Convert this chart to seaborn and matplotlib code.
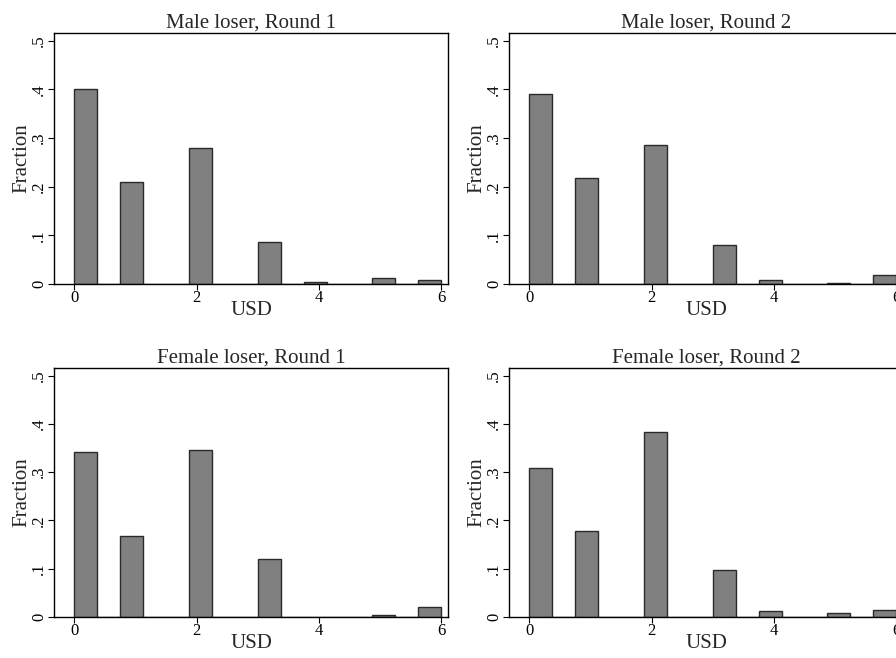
import numpy as np
import pandas as pd
import matplotlib
matplotlib.use("Agg")
import matplotlib.pyplot as plt
import seaborn as sns

# Data (fraction of subjects per USD amount)
usd = [0, 1, 2, 3, 4, 5, 6]
male_r1 = [0.400, 0.210, 0.280, 0.086, 0.004, 0.012, 0.008]
male_r2 = [0.390, 0.218, 0.286, 0.081, 0.008, 0.002, 0.019]
female_r1 = [0.342, 0.167, 0.347, 0.121, 0.000, 0.004, 0.020]
female_r2 = [0.309, 0.179, 0.384, 0.098, 0.012, 0.008, 0.014]

titles = ["Male loser, Round 1", "Male loser, Round 2",
          "Female loser, Round 1", "Female loser, Round 2"]
series = [male_r1, male_r2, female_r1, female_r2]
y_ticks = [0, 0.1, 0.2, 0.3, 0.4, 0.5]
y_tick_labels = ["0", ".1", ".2", ".3", ".4", ".5"]
x_ticks = [0, 2, 4, 6]

sns.set_style("white")
plt.rcParams["font.family"] = ["Liberation Serif", "DejaVu Serif"]

fig = plt.figure(figsize=(8.96, 6.58), dpi=100)
W, H = 896, 658
# axes boxes in pixels: left, top, right, bottom
boxes = [(54, 33, 448, 284), (509, 33, 903, 284),
         (54, 368, 448, 617), (509, 368, 903, 617)]

for box, title, frac in zip(boxes, titles, series):
    l, t, r, b = box
    ax = fig.add_axes([l / W, 1 - b / H, (r - l) / W, (b - t) / H])
    df = pd.DataFrame({"usd": usd, "frac": frac})
    sns.histplot(data=df, x="usd", weights="frac", bins=16, binrange=(0, 6),
                 stat="count", color="#808080", edgecolor="#2a2a2a",
                 linewidth=1.0, alpha=1, ax=ax)
    ax.set_xlim(-0.33, 6.11)
    ax.set_ylim(0, 0.516)
    ax.set_xticks(x_ticks)
    ax.set_xticklabels([str(v) for v in x_ticks])
    ax.set_yticks(y_ticks)
    ax.set_yticklabels(y_tick_labels, rotation=90, va="center")
    ax.tick_params(axis="both", direction="out", length=4, width=0.8,
                   labelsize=12, colors="black")
    ax.tick_params(axis="x", pad=0)
    ax.tick_params(axis="y", pad=1)
    ax.tick_params(axis="both", bottom=True, left=True)
    for s in ax.spines.values():
        s.set_color("black")
        s.set_linewidth(1.0)
    ax.set_title(title, fontsize=15, pad=4)
    ax.set_xlabel("USD", fontsize=15, labelpad=-3)
    ax.set_ylabel("Fraction", fontsize=15, labelpad=0)

fig.savefig("out.png", dpi=100)
